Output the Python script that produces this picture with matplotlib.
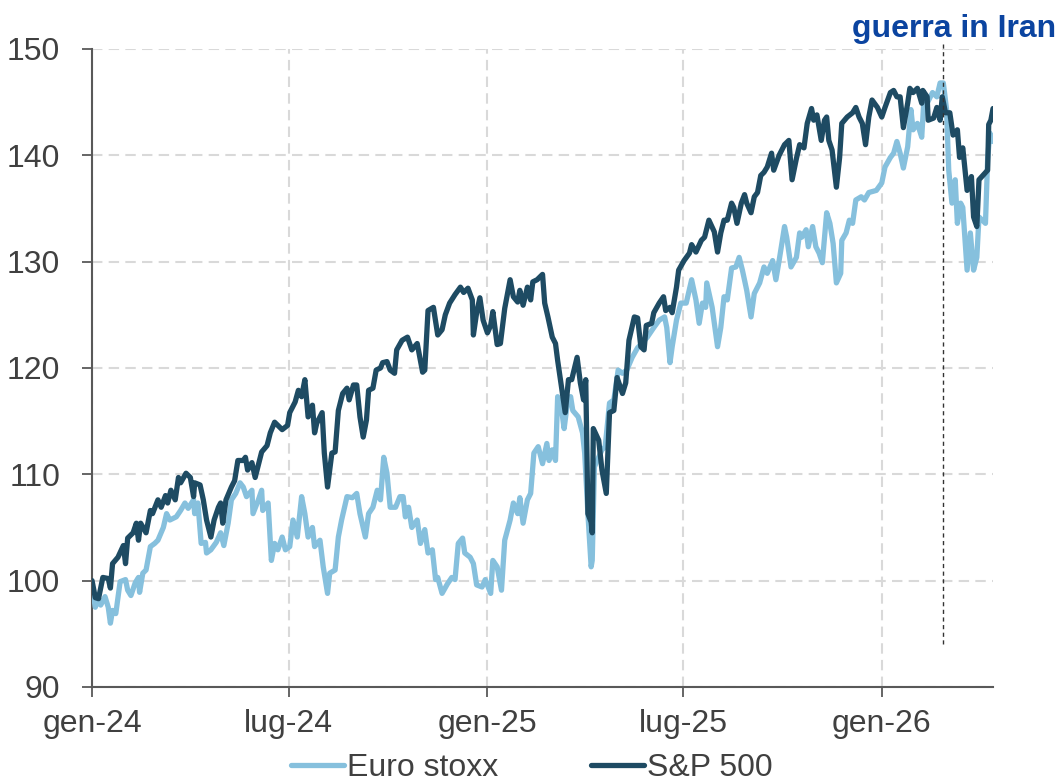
import matplotlib
matplotlib.use("Agg")
import matplotlib.pyplot as plt
import matplotlib.dates as mdates
import pandas as pd

plt.rcParams['font.family'] = ['Liberation Sans', 'DejaVu Sans']

# ---------------- data ----------------
sp_dates = [
    "2024-01-01","2024-01-04","2024-01-07","2024-01-11","2024-01-16","2024-01-18","2024-01-20","2024-01-25",
    "2024-01-30","2024-02-01","2024-02-03","2024-02-08","2024-02-11","2024-02-13","2024-02-15","2024-02-20",
    "2024-02-24","2024-02-26","2024-03-02","2024-03-05","2024-03-09","2024-03-11","2024-03-14","2024-03-18",
    "2024-03-21","2024-03-23","2024-03-28","2024-04-01","2024-04-04","2024-04-05","2024-04-10","2024-04-13",
    "2024-04-16","2024-04-20","2024-04-23","2024-04-27","2024-04-29","2024-05-01","2024-05-04","2024-05-09",
    "2024-05-12","2024-05-15","2024-05-20","2024-05-22","2024-05-24","2024-05-28","2024-05-31","2024-06-06",
    "2024-06-11","2024-06-14","2024-06-18","2024-06-25","2024-06-30","2024-07-02","2024-07-07","2024-07-10",
    "2024-07-13","2024-07-16","2024-07-19","2024-07-23","2024-07-25","2024-07-27","2024-08-01","2024-08-03",
    "2024-08-06","2024-08-10","2024-08-13","2024-08-16","2024-08-20","2024-08-24","2024-08-26","2024-08-30",
    "2024-09-02","2024-09-05","2024-09-08","2024-09-11","2024-09-13","2024-09-17","2024-09-20","2024-09-24",
    "2024-09-26","2024-09-30","2024-10-03","2024-10-07","2024-10-09","2024-10-14","2024-10-19","2024-10-23",
    "2024-10-28","2024-11-02","2024-11-04","2024-11-07","2024-11-12","2024-11-16","2024-11-20","2024-11-23",
    "2024-11-27","2024-12-02","2024-12-07","2024-12-10","2024-12-14","2024-12-18","2024-12-19","2024-12-22",
    "2024-12-25","2024-12-28","2025-01-01","2025-01-04","2025-01-06","2025-01-10","2025-01-13","2025-01-17",
    "2025-01-22","2025-01-25","2025-01-29","2025-01-31","2025-02-03","2025-02-07","2025-02-10","2025-02-12",
    "2025-02-16","2025-02-21","2025-02-23","2025-02-26","2025-03-02","2025-03-05","2025-03-07","2025-03-11",
    "2025-03-14","2025-03-17","2025-03-20","2025-03-25","2025-03-28","2025-03-31","2025-04-02","2025-04-04",
    "2025-04-07","2025-04-08","2025-04-09","2025-04-14","2025-04-17","2025-04-21","2025-04-24","2025-04-28",
    "2025-05-01","2025-05-06","2025-05-09","2025-05-12","2025-05-17","2025-05-20","2025-05-23","2025-05-26",
    "2025-05-28","2025-06-02","2025-06-04","2025-06-09","2025-06-13","2025-06-15","2025-06-19","2025-06-21",
    "2025-06-25","2025-06-27","2025-07-02","2025-07-07","2025-07-09","2025-07-13","2025-07-18","2025-07-21",
    "2025-07-25","2025-07-30","2025-08-02","2025-08-05","2025-08-08","2025-08-11","2025-08-15","2025-08-17",
    "2025-08-20","2025-08-24","2025-08-27","2025-08-29","2025-09-02","2025-09-05","2025-09-08","2025-09-11",
    "2025-09-14","2025-09-17","2025-09-21","2025-09-23","2025-09-28","2025-10-03","2025-10-07","2025-10-10",
    "2025-10-14","2025-10-17","2025-10-21","2025-10-24","2025-10-28","2025-10-30","2025-11-02","2025-11-06",
    "2025-11-09","2025-11-11","2025-11-13","2025-11-16","2025-11-20","2025-11-23","2025-11-25","2025-11-30",
    "2025-12-05","2025-12-08","2025-12-11","2025-12-14","2025-12-17","2025-12-20","2025-12-23","2025-12-28",
    "2026-01-01","2026-01-04","2026-01-09","2026-01-12","2026-01-15","2026-01-18","2026-01-21","2026-01-25",
    "2026-01-27","2026-01-30","2026-02-03","2026-02-07","2026-02-08","2026-02-12","2026-02-13","2026-02-18",
    "2026-02-21","2026-02-24","2026-02-26","2026-03-01","2026-03-05","2026-03-08","2026-03-12","2026-03-14",
    "2026-03-17","2026-03-21","2026-03-25","2026-03-27","2026-03-30","2026-04-01","2026-04-09","2026-04-10",
    "2026-04-12","2026-04-14",
]
sp_values = [
    100.0, 98.4, 98.3, 100.3, 100.2, 99.3, 101.6, 102.2,
    103.3, 101.6, 104.0, 104.5, 105.4, 103.8, 105.4, 104.5,
    106.6, 106.3, 107.6, 106.9, 108.0, 107.3, 108.5, 107.6,
    109.7, 109.2, 110.1, 109.7, 107.9, 109.2, 109.0, 107.6,
    105.7, 104.1, 105.7, 106.9, 107.3, 105.4, 107.6, 108.8,
    109.4, 111.3, 111.3, 111.6, 110.4, 111.1, 109.7, 112.1,
    112.7, 113.9, 114.9, 114.2, 114.6, 115.8, 116.8, 117.9,
    117.3, 118.9, 115.4, 116.5, 113.9, 114.8, 115.8, 112.0,
    108.8, 112.0, 112.1, 116.0, 117.6, 118.1, 117.0, 118.4,
    118.4, 115.4, 113.5, 115.1, 117.9, 118.1, 119.8, 120.0,
    120.5, 120.6, 119.8, 119.5, 121.7, 122.6, 122.9, 121.7,
    122.3, 119.6, 119.8, 125.4, 125.7, 123.1, 123.6, 125.0,
    126.1, 126.9, 127.6, 127.1, 127.5, 126.4, 123.1, 125.2,
    126.6, 124.5, 123.3, 124.0, 125.3, 122.2, 122.3, 125.6,
    128.3, 126.7, 126.2, 127.3, 125.9, 127.6, 126.4, 128.1,
    128.3, 128.8, 126.1, 124.8, 122.9, 122.3, 120.7, 117.9,
    115.8, 118.9, 118.9, 121.0, 118.6, 117.0, 118.9, 106.3,
    105.5, 104.5, 114.3, 113.2, 110.4, 108.2, 115.8, 116.0,
    119.1, 117.6, 118.6, 122.6, 124.8, 124.7, 122.0, 121.7,
    124.0, 124.2, 125.2, 126.1, 126.7, 125.4, 125.7, 125.2,
    127.6, 129.2, 130.1, 130.8, 131.6, 130.9, 132.0, 132.3,
    133.9, 132.8, 130.9, 132.7, 133.9, 133.9, 135.5, 135.1,
    133.6, 135.5, 136.3, 135.5, 134.6, 136.1, 136.5, 138.1,
    138.4, 138.9, 140.2, 138.6, 140.0, 141.0, 141.4, 137.7,
    139.7, 141.0, 140.7, 143.0, 144.4, 143.3, 143.8, 141.4,
    143.3, 143.6, 141.4, 140.5, 137.0, 139.8, 143.0, 143.6,
    144.0, 144.5, 143.6, 143.0, 141.0, 143.6, 145.2, 144.5,
    143.6, 144.5, 145.9, 146.1, 145.5, 145.5, 142.6, 144.9,
    146.3, 145.9, 146.3, 144.9, 146.1, 145.5, 143.3, 143.5,
    144.5, 143.3, 145.5, 144.0, 144.0, 141.9, 142.4, 139.8,
    140.7, 136.7, 138.0, 134.2, 133.3, 137.7, 138.6, 142.9,
    143.3, 144.4,
]

es_dates = [
    "2024-01-02","2024-01-04","2024-01-07","2024-01-09","2024-01-13","2024-01-16","2024-01-18","2024-01-20",
    "2024-01-23","2024-01-27","2024-02-01","2024-02-03","2024-02-06","2024-02-10","2024-02-13","2024-02-14",
    "2024-02-17","2024-02-20","2024-02-24","2024-02-28","2024-03-02","2024-03-07","2024-03-10","2024-03-13",
    "2024-03-19","2024-03-23","2024-03-27","2024-03-30","2024-04-04","2024-04-05","2024-04-08","2024-04-11",
    "2024-04-15","2024-04-16","2024-04-20","2024-04-25","2024-04-29","2024-05-02","2024-05-06","2024-05-09",
    "2024-05-13","2024-05-17","2024-05-20","2024-05-23","2024-05-28","2024-05-29","2024-06-03","2024-06-06",
    "2024-06-07","2024-06-12","2024-06-15","2024-06-18","2024-06-21","2024-06-25","2024-06-28","2024-07-02",
    "2024-07-05","2024-07-09","2024-07-13","2024-07-16","2024-07-19","2024-07-23","2024-07-25","2024-07-30",
    "2024-08-02","2024-08-06","2024-08-08","2024-08-13","2024-08-16","2024-08-19","2024-08-24","2024-08-29",
    "2024-09-02","2024-09-05","2024-09-10","2024-09-13","2024-09-17","2024-09-21","2024-09-24","2024-09-27",
    "2024-09-30","2024-10-03","2024-10-08","2024-10-12","2024-10-15","2024-10-17","2024-10-20","2024-10-23",
    "2024-10-28","2024-10-31","2024-11-04","2024-11-07","2024-11-11","2024-11-14","2024-11-16","2024-11-20",
    "2024-11-25","2024-11-29","2024-12-02","2024-12-05","2024-12-09","2024-12-11","2024-12-16","2024-12-19",
    "2024-12-22","2024-12-27","2024-12-30","2025-01-04","2025-01-06","2025-01-10","2025-01-14","2025-01-17",
    "2025-01-22","2025-01-25","2025-01-29","2025-01-31","2025-02-03","2025-02-07","2025-02-10","2025-02-13",
    "2025-02-17","2025-02-21","2025-02-25","2025-02-27","2025-03-02","2025-03-05","2025-03-07","2025-03-11",
    "2025-03-13","2025-03-16","2025-03-19","2025-03-21","2025-03-26","2025-03-30","2025-04-01","2025-04-04",
    "2025-04-07","2025-04-08","2025-04-10","2025-04-17","2025-04-20","2025-04-24","2025-04-28","2025-05-02",
    "2025-05-06","2025-05-10","2025-05-15","2025-05-20","2025-05-24","2025-05-29","2025-06-04","2025-06-09",
    "2025-06-14","2025-06-16","2025-06-19","2025-06-21","2025-06-25","2025-06-29","2025-07-04","2025-07-09",
    "2025-07-13","2025-07-16","2025-07-19","2025-07-22","2025-07-23","2025-07-28","2025-08-02","2025-08-05",
    "2025-08-08","2025-08-11","2025-08-15","2025-08-19","2025-08-22","2025-08-25","2025-08-29","2025-09-02",
    "2025-09-05","2025-09-10","2025-09-14","2025-09-17","2025-09-22","2025-09-25","2025-09-28","2025-10-03",
    "2025-10-05","2025-10-09","2025-10-14","2025-10-17","2025-10-19","2025-10-23","2025-10-25","2025-10-29",
    "2025-11-01","2025-11-04","2025-11-07","2025-11-11","2025-11-14","2025-11-17","2025-11-20","2025-11-24",
    "2025-11-25","2025-11-29","2025-12-02","2025-12-05","2025-12-08","2025-12-13","2025-12-16","2025-12-20",
    "2025-12-27","2026-01-01","2026-01-04","2026-01-09","2026-01-12","2026-01-15","2026-01-18","2026-01-21",
    "2026-01-25","2026-01-28","2026-01-30","2026-02-03","2026-02-07","2026-02-09","2026-02-12","2026-02-17",
    "2026-02-21","2026-02-24","2026-02-27","2026-03-02","2026-03-04","2026-03-07","2026-03-10","2026-03-12",
    "2026-03-15","2026-03-17","2026-03-21","2026-03-24","2026-03-27","2026-03-30","2026-04-01","2026-04-07",
    "2026-04-09","2026-04-11","2026-04-14",
]
es_values = [
    98.8, 97.5, 98.3, 97.7, 98.5, 97.5, 96.0, 97.2,
    96.9, 99.9, 100.1, 99.1, 98.6, 99.8, 100.3, 98.9,
    100.7, 101.0, 103.2, 103.5, 103.8, 105.0, 106.3, 105.7,
    106.0, 106.6, 107.3, 106.8, 107.6, 106.3, 107.3, 103.5,
    103.6, 102.6, 102.9, 103.6, 104.5, 103.3, 105.4, 107.6,
    108.2, 109.2, 108.8, 107.9, 108.5, 106.3, 107.6, 108.5,
    106.6, 107.3, 101.9, 103.5, 102.9, 104.1, 102.9, 103.2,
    105.7, 104.1, 107.9, 106.3, 104.1, 105.0, 103.2, 103.8,
    101.3, 98.8, 100.7, 101.0, 104.1, 105.7, 107.9, 107.8,
    108.2, 106.3, 104.1, 106.3, 106.9, 108.5, 107.6, 111.6,
    110.1, 106.9, 106.9, 107.9, 107.9, 106.0, 106.9, 105.0,
    105.7, 103.5, 104.8, 102.6, 102.9, 100.1, 100.3, 98.8,
    99.7, 100.3, 100.1, 103.5, 104.0, 102.6, 102.2, 101.6,
    99.6, 99.4, 100.1, 98.8, 101.9, 101.3, 99.1, 103.8,
    105.7, 107.3, 106.3, 107.8, 105.4, 107.6, 108.2, 112.0,
    112.6, 111.0, 112.9, 111.3, 112.3, 111.3, 117.3, 115.8,
    114.3, 116.7, 117.3, 116.0, 115.4, 113.9, 112.0, 106.3,
    101.3, 101.9, 110.7, 112.3, 112.6, 116.7, 117.0, 119.8,
    119.5, 119.8, 121.0, 121.9, 122.3, 122.9, 123.8, 124.5,
    124.8, 123.8, 120.5, 122.0, 124.5, 126.1, 126.1, 128.3,
    126.4, 124.2, 126.1, 125.7, 128.0, 125.7, 122.0, 123.8,
    126.7, 126.4, 129.4, 129.5, 130.4, 129.2, 127.3, 124.8,
    127.0, 128.0, 129.5, 128.9, 130.1, 128.3, 130.1, 133.3,
    132.3, 129.5, 130.4, 132.7, 132.3, 133.0, 131.4, 133.3,
    131.4, 130.8, 129.9, 134.6, 133.6, 131.7, 128.0, 128.9,
    132.0, 132.7, 133.9, 133.6, 135.8, 136.1, 135.8, 136.5,
    136.7, 137.4, 138.9, 139.8, 140.2, 141.3, 140.2, 138.8,
    140.8, 144.3, 142.4, 143.0, 141.7, 145.2, 144.9, 145.9,
    145.5, 146.8, 146.8, 144.3, 138.6, 135.5, 137.7, 133.6,
    135.5, 135.1, 129.2, 132.7, 129.2, 130.4, 134.2, 133.6,
    139.6, 142.1, 141.3,
]

tick_dates = ["2024-01-01", "2024-07-01", "2025-01-01", "2025-07-01", "2026-01-01"]
tick_labels = ["gen-24", "lug-24", "gen-25", "lug-25", "gen-26"]
y_ticks = [90, 100, 110, 120, 130, 140, 150]
event_date = "2026-02-27"
event_label = "guerra in Iran"
series_names = ["Euro stoxx", "S&P 500"]

# ---------------- plot ----------------
sp_x = pd.to_datetime(sp_dates)
es_x = pd.to_datetime(es_dates)

fig = plt.figure(figsize=(10.64, 7.81), dpi=100)
ax = fig.add_axes([0.0865, 0.1204, 0.8468, 0.8169])

text_col = "#404040"
axis_col = "#595959"
grid_col = "#D9D9D9"

ax.plot(es_x, es_values, color="#86C0DD", lw=3.8, label=series_names[0],
        solid_joinstyle="round", solid_capstyle="round", zorder=3)
ax.plot(sp_x, sp_values, color="#1E4B63", lw=3.8, label=series_names[1],
        solid_joinstyle="round", solid_capstyle="round", zorder=4)

ev = pd.Timestamp(event_date)
ax.plot([ev, ev], [94, 150.6], color="#333333", lw=1.0, ls=(0, (3, 2.5)),
        clip_on=False, zorder=5)
fig.text(0.897, 0.963, event_label, color="#0B44A0", fontsize=23,
         fontweight="bold", ha="center", va="center")

ax.set_xlim(pd.Timestamp("2024-01-01"), pd.Timestamp("2026-04-14"))
ax.set_ylim(90, 150)
ax.set_yticks(y_ticks)
ax.set_xticks(pd.to_datetime(tick_dates))
ax.set_xticklabels(tick_labels)

ax.grid(True, color=grid_col, lw=1.5, ls=(0, (5, 3)))
ax.set_axisbelow(True)
for s in ["top", "right"]:
    ax.spines[s].set_visible(False)
for s in ["left", "bottom"]:
    ax.spines[s].set_color(axis_col)
    ax.spines[s].set_linewidth(1.5)
ax.tick_params(axis="both", colors=axis_col, labelcolor=text_col,
               labelsize=23, length=7, width=1.3)
ax.tick_params(axis="x", pad=9)
ax.tick_params(axis="y", pad=16)

leg = fig.legend(loc="center", bbox_to_anchor=(0.5, 0.017), ncol=2, frameon=False,
                 fontsize=23, handlelength=1.65, handletextpad=0.1, columnspacing=2.9,
                 labelcolor=text_col)

fig.savefig("out.png", dpi=100)
